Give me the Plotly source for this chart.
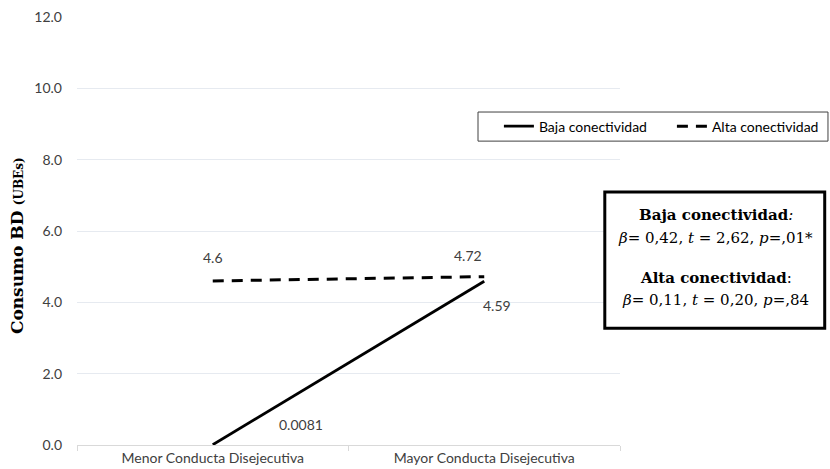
import plotly.graph_objects as go

categories = ["Menor Conducta Disejecutiva", "Mayor Conducta Disejecutiva"]
baja = [0.0081, 4.59]
alta = [4.6, 4.72]
series_names = ["Baja conectividad", "Alta conectividad"]
y_ticks = [0, 2, 4, 6, 8, 10, 12]
y_title = "<b>Consumo BD</b> <span style='font-size:12px'><b>(UBEs)</b></span>"
box_lines = [
    "<b>Baja conectividad</b><i>:</i>",
    "<i>β</i>= 0,42, <i>t</i> = 2,62, <i>p</i>=,01*",
    "<b>Alta conectividad</b>:",
    "<i>β</i>= 0,11, <i>t</i> = 0,20, <i>p</i>=,84",
]

SANS = "Lato, 'Open Sans', sans-serif"
SERIF = "'DejaVu Serif', 'Liberation Serif', serif"

fig = go.Figure()
fig.add_trace(go.Scatter(x=categories, y=baja, mode="lines", name=series_names[0],
                         line=dict(color="black", width=2.8), cliponaxis=False))
fig.add_trace(go.Scatter(x=categories, y=alta, mode="lines", name=series_names[1],
                         line=dict(color="black", width=3, dash="11px,8px"), cliponaxis=False))

lab_font = dict(family=SANS, size=14, color="#404040")
# data labels: (series, index, xshift, yshift)
label_specs = [(alta, 0, 0, 23), (alta, 1, -16, 21), (baja, 1, 13, -24), (baja, 0, 88, 20)]
for ser, i, xs, ys in label_specs:
    v = ser[i]
    fig.add_annotation(x=categories[i], y=v, text=f"{v:g}", showarrow=False,
                       xshift=xs, yshift=ys, font=lab_font)

# y-axis title
fig.add_annotation(xref="paper", yref="paper", x=-0.1105, y=0.467, textangle=-90,
                   showarrow=False, xanchor="center", yanchor="middle", text=y_title,
                   font=dict(family=SERIF, size=17, color="black"))

# legend frame
fig.add_shape(type="rect", xref="paper", yref="paper", x0=0.7385, x1=1.383, y0=0.710, y1=0.778,
              line=dict(color="#404040", width=1), fillcolor="white", layer="above")

# statistics box
fig.add_shape(type="rect", xref="paper", yref="paper", x0=0.972, x1=1.377, y0=0.273, y1=0.591,
              line=dict(color="black", width=3), fillcolor="white", layer="above")
for txt, yy in zip(box_lines, [0.538, 0.484, 0.391, 0.339]):
    fig.add_annotation(xref="paper", yref="paper", x=1.176, y=yy, xanchor="center",
                       yanchor="middle", showarrow=False, text=txt,
                       font=dict(family=SERIF, size=15, color="black"))

fig.update_layout(
    width=830, height=469,
    margin=dict(l=77, r=210, t=17, b=24, autoexpand=False),
    paper_bgcolor="white", plot_bgcolor="white",
    showlegend=True,
    legend=dict(orientation="h", x=0.777, y=0.744, xanchor="left", yanchor="middle",
                borderwidth=0, bgcolor="rgba(0,0,0,0)",
                font=dict(family=SANS, size=14, color="black"),
                itemwidth=30, entrywidth=128, tracegroupgap=0),
    xaxis=dict(type="category", showgrid=False, showline=True, linecolor="#d9d9d9",
               linewidth=1, ticks="outside", tickson="boundaries", ticklen=5,
               tickcolor="#d9d9d9", range=[-0.5, 1.5], automargin=False,
               tickfont=dict(family=SANS, size=14, color="#404040")),
    yaxis=dict(range=[0, 12], tickvals=y_ticks, tickformat=".1f", showgrid=True,
               gridcolor="#e6eaf0", gridwidth=1, zeroline=False, showline=False,
               ticks="", ticklabelstandoff=14, automargin=False, ticklabeloverflow="allow",
               tickfont=dict(family=SANS, size=14, color="#404040")),
)

fig.write_html("out.html", config={"displayModeBar": False},
               post_script="document.body.style.margin='0';document.body.style.overflow='hidden';")
